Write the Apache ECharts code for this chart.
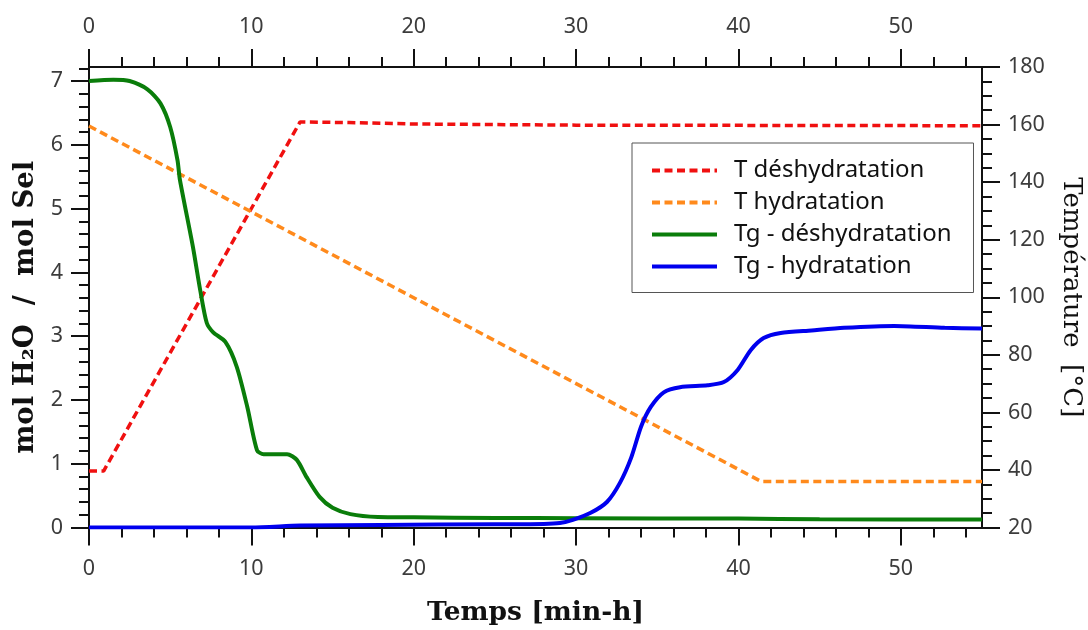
<!DOCTYPE html>
<html><head><meta charset="utf-8">
<script src="https://cdn.jsdelivr.net/npm/echarts@6/dist/echarts.min.js"></script>
<style>html,body{margin:0;padding:0;background:#fff}#c{width:1088px;height:630px}</style>
</head><body><div id="c"></div><script>
// ---- tick values / labels ----
const xMajorTicks = [0, 10, 20, 30, 40, 50];
const xMinorTicks = [2, 4, 6, 8, 12, 14, 16, 18, 22, 24, 26, 28, 32, 34, 36, 38, 42, 44, 46, 48, 52, 54];
const yLeftMajorTicks = [0, 1, 2, 3, 4, 5, 6, 7];
const yLeftMinorTicks = [0.2, 0.4, 0.6, 0.8, 1.2, 1.4, 1.6, 1.8, 2.2, 2.4, 2.6, 2.8, 3.2, 3.4, 3.6, 3.8, 4.2, 4.4, 4.6, 4.8, 5.2, 5.4, 5.6, 5.8, 6.2, 6.4, 6.6, 6.8, 7.2];
const yRightMajorTicks = [20, 40, 60, 80, 100, 120, 140, 160, 180];
const yRightMinorTicks = [25, 30, 35, 45, 50, 55, 65, 70, 75, 85, 90, 95, 105, 110, 115, 125, 130, 135, 145, 150, 155, 165, 170, 175];

// ---- series data ----
const seriesNames = ['T déshydratation', 'T hydratation', 'Tg - déshydratation', 'Tg - hydratation'];

const tDehydX = [0, 0.9, 13.0, 16, 20, 30, 55];
const tDehydY = [39.6, 39.6, 160.9, 160.7, 160.2, 159.8, 159.6];

const tHydX = [0, 41.4, 55];
const tHydY = [159.5, 36.0, 36.0];

const tgDehydX = [0, 1.5, 2.5, 3.6, 4.4, 5.0, 5.45, 5.6, 6.4, 6.85, 7.25, 7.65, 8.4, 9.1, 9.75, 10.35, 10.75, 12.2, 12.8, 13.4, 14.2, 15.0, 16.1, 17.8, 20, 25, 30, 40, 45, 55];
const tgDehydY = [7.0, 7.02, 7.0, 6.87, 6.65, 6.28, 5.76, 5.45, 4.40, 3.72, 3.21, 3.06, 2.91, 2.52, 1.89, 1.21, 1.15, 1.15, 1.06, 0.79, 0.48, 0.31, 0.21, 0.165, 0.16, 0.15, 0.145, 0.14, 0.13, 0.125];

const tgHydX = [0, 10, 13, 18, 25, 28.0, 29.0, 29.8, 30.9, 31.9, 32.7, 33.4, 34.0, 34.6, 35.4, 36.4, 38.1, 39.1, 39.95, 40.75, 41.55, 42.6, 44.5, 46.5, 49.6, 52.7, 55];
const tgHydY = [0.0, 0.0, 0.03, 0.04, 0.05, 0.055, 0.07, 0.12, 0.23, 0.40, 0.70, 1.10, 1.58, 1.89, 2.12, 2.20, 2.23, 2.28, 2.47, 2.78, 2.97, 3.05, 3.09, 3.13, 3.16, 3.13, 3.12];

const zip = (xs, ys) => xs.map((x, i) => [x, ys[i]]);

const AX = '#111';
const labelFont = { fontFamily: 'Noto Sans', fontSize: 21.5, color: '#3c3c3c' };
function axisLine(show) { return { show: show, onZero: false, lineStyle: { color: AX, width: 2 } }; }
function ticks(len, vals) { return { show: true, inside: false, length: len, customValues: vals, lineStyle: { color: AX, width: 2 } }; }
const gridRect = { left: 89, top: 67, width: 893, height: 460.5, containLabel: false, outerBoundsMode: 'none' };

const chart = echarts.init(document.getElementById('c'), null, { renderer: 'canvas' });
chart.setOption({
  animation: false,
  backgroundColor: '#fff',
  grid: [Object.assign({}, gridRect), Object.assign({}, gridRect)],
  legend: {
    orient: 'vertical', left: 632, top: 143,
    data: seriesNames,
    itemWidth: 65, itemHeight: 24, itemGap: 8,
    backgroundColor: '#fff', borderColor: '#555', borderWidth: 1,
    padding: [15.5, 22, 14, 18],
    itemStyle: { opacity: 0 },
    lineStyle: { width: 4 },
    textStyle: { fontFamily: 'Noto Sans', fontSize: 24, color: '#111', padding: [0, 0, 0, 12] }
  },
  xAxis: [
    { type: 'value', gridIndex: 0, position: 'bottom', min: 0, max: 55,
      axisLine: axisLine(true), axisTick: ticks(18, xMajorTicks),
      axisLabel: Object.assign({ customValues: xMajorTicks, margin: 30 }, labelFont),
      splitLine: { show: false },
      name: 'Temps [min-h]', nameLocation: 'middle', nameGap: 72,
      nameTextStyle: { fontFamily: 'DejaVu Serif', fontWeight: 'bold', fontSize: 26.5, color: '#111' } },
    { type: 'value', gridIndex: 0, position: 'top', min: 0, max: 55,
      axisLine: axisLine(true), axisTick: ticks(18, xMajorTicks),
      axisLabel: Object.assign({ customValues: xMajorTicks, margin: 29 }, labelFont),
      splitLine: { show: false } },
    { type: 'value', gridIndex: 1, position: 'bottom', min: 0, max: 55,
      axisLine: axisLine(false), axisTick: ticks(10, xMinorTicks),
      axisLabel: { show: false }, splitLine: { show: false } },
    { type: 'value', gridIndex: 1, position: 'top', min: 0, max: 55,
      axisLine: axisLine(false), axisTick: ticks(10, xMinorTicks),
      axisLabel: { show: false }, splitLine: { show: false } }
  ],
  yAxis: [
    { type: 'value', gridIndex: 0, position: 'left', min: 0, max: 7.22,
      axisLine: axisLine(true), axisTick: ticks(18, yLeftMajorTicks),
      axisLabel: Object.assign({ customValues: yLeftMajorTicks, margin: 26 }, labelFont),
      splitLine: { show: false },
      name: 'mol H\u2082O  /  mol Sel', nameLocation: 'middle', nameGap: 49, nameRotate: 90,
      nameTextStyle: { fontFamily: 'DejaVu Serif', fontWeight: 'bold', fontSize: 27.5, color: '#111', padding: [0, 20, 0, 0] } },
    { type: 'value', gridIndex: 0, position: 'right', min: 20, max: 180,
      axisLine: axisLine(true), axisTick: ticks(18, yRightMajorTicks),
      axisLabel: Object.assign({ customValues: yRightMajorTicks, margin: 26 }, labelFont),
      splitLine: { show: false },
      name: 'Température  [°C]', nameLocation: 'middle', nameGap: 76, nameRotate: -90,
      nameTextStyle: { fontFamily: 'DejaVu Serif', fontSize: 26, color: '#111' } },
    { type: 'value', gridIndex: 1, position: 'left', min: 0, max: 7.22,
      axisLine: axisLine(false), axisTick: ticks(10, yLeftMinorTicks),
      axisLabel: { show: false }, splitLine: { show: false } },
    { type: 'value', gridIndex: 1, position: 'right', min: 20, max: 180,
      axisLine: axisLine(false), axisTick: ticks(10, yRightMinorTicks),
      axisLabel: { show: false }, splitLine: { show: false } }
  ],
  series: [
    { name: seriesNames[0], type: 'line', xAxisIndex: 0, yAxisIndex: 1, symbol: 'none',
      data: zip(tDehydX, tDehydY), lineStyle: { color: '#f01010', width: 3.5, type: [8, 4.5] }, itemStyle: { color: '#f01010' } },
    { name: seriesNames[1], type: 'line', xAxisIndex: 0, yAxisIndex: 1, symbol: 'none',
      data: zip(tHydX, tHydY), lineStyle: { color: '#ff8a1c', width: 3.5, type: [8, 4.5] }, itemStyle: { color: '#ff8a1c' } },
    { name: seriesNames[2], type: 'line', xAxisIndex: 0, yAxisIndex: 0, symbol: 'none', smooth: 0.25,
      data: zip(tgDehydX, tgDehydY), lineStyle: { color: '#0a7d0a', width: 4 }, itemStyle: { color: '#0a7d0a' } },
    { name: seriesNames[3], type: 'line', xAxisIndex: 0, yAxisIndex: 0, symbol: 'none', smooth: 0.25,
      data: zip(tgHydX, tgHydY), lineStyle: { color: '#0000ee', width: 4 }, itemStyle: { color: '#0000ee' } }
  ]
});
</script></body></html>
